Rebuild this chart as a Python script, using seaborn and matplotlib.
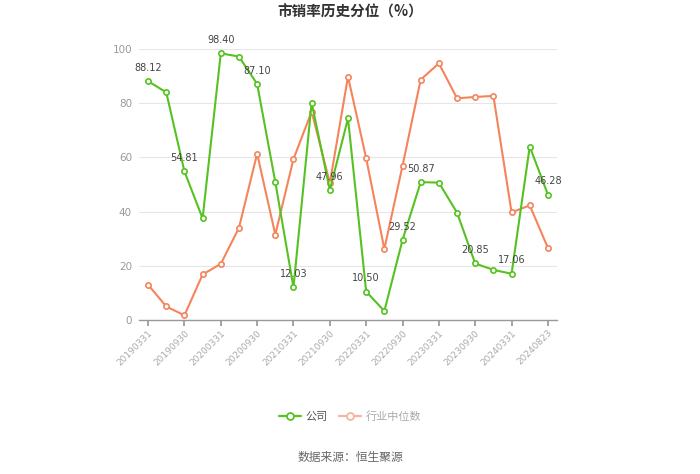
import matplotlib
matplotlib.use("Agg")
import matplotlib.pyplot as plt
import seaborn as sns
import pandas as pd
import numpy as np

dates = ["20190331", "20190630", "20190930", "20191231", "20200331", "20200630",
         "20200930", "20201231", "20210331", "20210630", "20210930", "20211231",
         "20220331", "20220630", "20220930", "20221231", "20230331", "20230630",
         "20230930", "20231231", "20240331", "20240630", "20240823"]
company = [88.12, 84.0, 54.81, 37.5, 98.40, 97.2, 87.10, 50.9, 12.03, 80.2, 47.96, 74.4,
           10.50, 3.3, 29.52, 50.87, 50.7, 39.6, 20.85, 18.5, 17.06, 64.0, 46.28]
industry = [13.0, 5.0, 1.7, 16.8, 20.7, 34.0, 61.4, 31.5, 59.4, 76.9, 50.5, 89.8,
            59.7, 26.2, 56.9, 88.7, 94.7, 81.8, 82.3, 82.7, 39.7, 42.3, 26.6]
labeled_idx = [0, 2, 4, 6, 8, 10, 12, 14, 15, 18, 20, 22]
tick_idx = [0, 2, 4, 6, 8, 10, 12, 14, 16, 18, 20, 22]
series_names = ["公司", "行业中位数"]
title = "市销率历史分位（%）"
source = "数据来源：恒生聚源"

GREEN = "#55c222"
ORANGE = "#f5845c"

sns.set_theme(style="white")
plt.rcParams['font.family'] = ['Noto Sans CJK SC', 'DejaVu Sans']

df = pd.DataFrame({
    "x": list(range(len(dates))) * 2,
    "value": company + industry,
    "series": [series_names[0]] * len(dates) + [series_names[1]] * len(dates),
})

fig = plt.figure(figsize=(7, 4.74), dpi=100)
ax = fig.add_axes([139 / 700, 1 - 320 / 474, (557 - 139) / 700, (320 - 49) / 474])

sns.lineplot(data=df, x="x", y="value", hue="series",
             palette={series_names[0]: GREEN, series_names[1]: ORANGE},
             marker="o", markersize=3.8, markerfacecolor="white",
             markeredgewidth=1.2, linewidth=1.5, ax=ax, legend=False,
             hue_order=series_names[::-1])
for line, c in zip(ax.get_lines(), [ORANGE, GREEN]):
    line.set_markeredgecolor(c)

for i in labeled_idx:
    ax.annotate(f"{company[i]:.2f}", (i, company[i]), xytext=(0, 6),
                textcoords="offset points", ha="center", va="bottom",
                fontsize=7, color="#444444", family=['DejaVu Sans'])

ax.set_xlim(-0.5, len(dates) - 0.5)
ax.set_ylim(0, 100)
ax.set_yticks([0, 20, 40, 60, 80, 100])
ax.set_xticks(tick_idx)
ax.set_xticklabels([dates[i] for i in tick_idx], rotation=45, ha="right",
                   rotation_mode="anchor", fontsize=6.5, color="#aaaaaa",
                   family=['DejaVu Sans'])
ax.tick_params(axis="y", labelsize=7.5, labelcolor="#999999", length=0, pad=5)
ax.tick_params(axis="x", length=4, color="#999999", direction="out", pad=2, bottom=True)
for lab in ax.get_yticklabels():
    lab.set_family(['DejaVu Sans'])
ax.set_xlabel("")
ax.set_ylabel("")
ax.grid(axis="y", color="#e6e6e6", linewidth=0.8)
ax.set_axisbelow(True)
for s in ["top", "right", "left"]:
    ax.spines[s].set_visible(False)
ax.spines["bottom"].set_color("#999999")
ax.spines["bottom"].set_linewidth(1.0)

fig.text(0.5, 1 - 12 / 474, title, ha="center", va="center", fontsize=10.5,
         fontweight="bold", color="#333333")

from matplotlib.lines import Line2D
handles = [Line2D([], [], color=GREEN, marker="o", markersize=5, markerfacecolor="white",
                  markeredgecolor=GREEN, markeredgewidth=1.3, linewidth=1.6),
           Line2D([], [], color="#f6b49c", marker="o", markersize=5, markerfacecolor="white",
                  markeredgecolor="#f6b49c", markeredgewidth=1.3, linewidth=1.6)]
leg = fig.legend(handles, series_names, loc="center", bbox_to_anchor=(350 / 700, 1 - 417 / 474),
                 ncol=2, frameon=False, fontsize=8, handlelength=2.0, columnspacing=1.0,
                 handletextpad=0.4)
leg.get_texts()[0].set_color("#555555")
leg.get_texts()[1].set_color("#aaaaaa")

fig.text(0.5, 1 - 457 / 474, source, ha="center", va="center", fontsize=8.5, color="#666666")

fig.savefig("out.png", dpi=100)
